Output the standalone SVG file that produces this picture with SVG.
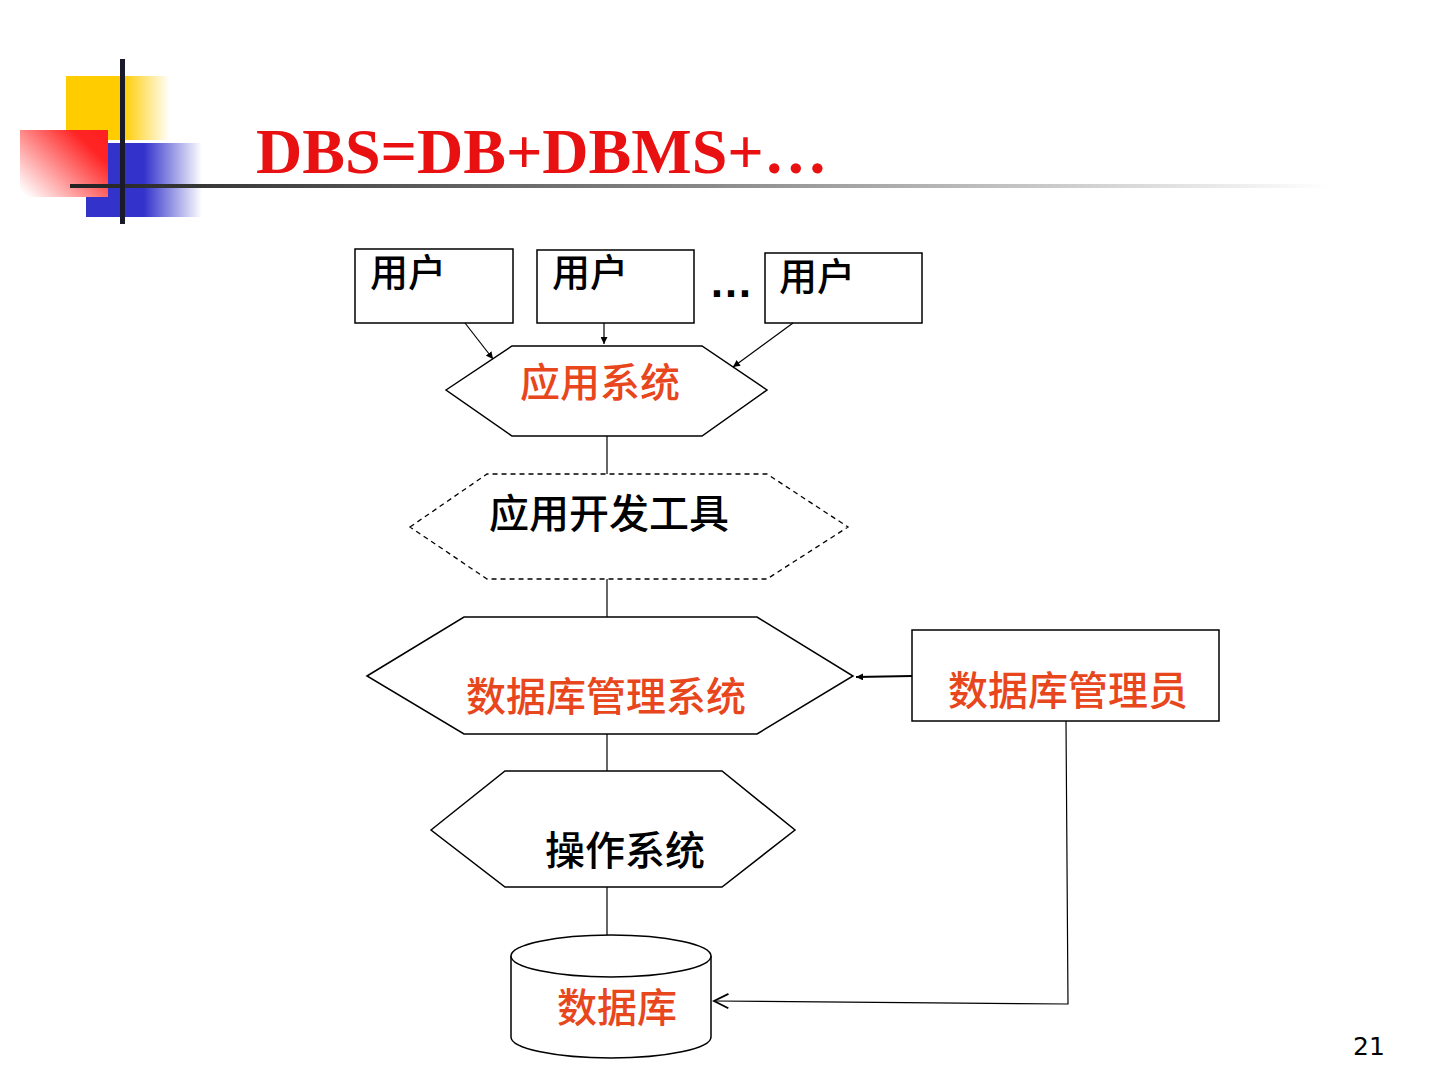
<svg xmlns="http://www.w3.org/2000/svg" width="1440" height="1080" viewBox="0 0 1440 1080">
<defs>
  <linearGradient id="gYellow" x1="0" y1="0" x2="1" y2="0">
    <stop offset="0" stop-color="#ffcc00"/>
    <stop offset="0.55" stop-color="#ffcc00"/>
    <stop offset="1" stop-color="#ffcc00" stop-opacity="0"/>
  </linearGradient>
  <linearGradient id="gBlue" x1="0" y1="0" x2="1" y2="0">
    <stop offset="0" stop-color="#3333cc"/>
    <stop offset="0.5" stop-color="#3333cc"/>
    <stop offset="1" stop-color="#3333cc" stop-opacity="0"/>
  </linearGradient>
  <linearGradient id="gRed" x1="1" y1="0.1" x2="0" y2="0.9">
    <stop offset="0" stop-color="#ff2020"/>
    <stop offset="0.2" stop-color="#ff2525"/>
    <stop offset="1" stop-color="#ffffff"/>
  </linearGradient>
  <linearGradient id="gLine" x1="0" y1="0" x2="1" y2="0">
    <stop offset="0" stop-color="#222"/>
    <stop offset="0.5" stop-color="#888"/>
    <stop offset="1" stop-color="#fff"/>
  </linearGradient>
  <marker id="arrSmall" viewBox="0 0 10 10" refX="10" refY="5" markerWidth="7" markerHeight="7" markerUnits="userSpaceOnUse" orient="auto">
    <path d="M0,0 L10,5 L0,10 z" fill="#000"/>
  </marker>
  <marker id="arrOpen" viewBox="0 0 20 20" refX="18" refY="10" markerWidth="18" markerHeight="18" markerUnits="userSpaceOnUse" orient="auto">
    <path d="M2,2 L18,10 L2,18" fill="none" stroke="#000" stroke-width="2"/>
  </marker>
</defs>
<style>
  .box{fill:#fff;stroke:#000;stroke-width:1.5}
  .dash{fill:#fff;stroke:#000;stroke-width:1.3;stroke-dasharray:5,4}
  .conn{fill:none;stroke:#000;stroke-width:1.2}
  .cn{font-family:"Noto Sans CJK SC","Noto Sans CJK JP",sans-serif;font-size:38px;font-weight:500}
  .big{font-size:40px}
  .blk{fill:#000}
  .org{fill:#e8461c}
</style>
<rect width="1440" height="1080" fill="#fff"/>

<g id="decoration">
  <rect x="66" y="76" width="104" height="64" fill="url(#gYellow)"/>
  <rect x="86" y="143" width="116" height="74" fill="url(#gBlue)"/>
  <rect x="20" y="130" width="88" height="67" fill="url(#gRed)"/>
  <rect x="70" y="184" width="1260" height="4" fill="url(#gLine)"/>
  <rect x="120" y="59" width="5" height="165" fill="#1a1a2a"/>
</g>

<g id="title">
  <text x="256" y="173" font-family="'Liberation Serif','Times New Roman',serif" font-weight="bold" font-size="64" fill="#e81010">DBS=DB+DBMS+…</text>
</g>

<g id="user1">
  <rect class="box" x="355" y="249" width="158" height="74"/>
  <text class="cn blk" x="370" y="286">用户</text>
</g>
<g id="user2">
  <rect class="box" x="537" y="250" width="157" height="73"/>
  <text class="cn blk" x="552" y="286">用户</text>
</g>
<g id="ellipsis">
  <text x="709" y="297" font-family="'Liberation Sans',Arial,sans-serif" font-weight="bold" font-size="44" fill="#000">…</text>
</g>
<g id="user3">
  <rect class="box" x="765" y="253" width="157" height="70"/>
  <text class="cn blk" x="779" y="290">用户</text>
</g>

<g id="app-system">
  <polygon class="box" points="446,390 512,346 702,346 767,390 702,436 512,436"/>
  <text class="cn big org" x="600" y="397" text-anchor="middle">应用系统</text>
</g>

<g id="dev-tools">
  <polygon class="dash" points="410,527 487,474 767,474 848,527 767,579 487,579"/>
  <text class="cn big blk" x="609" y="528" text-anchor="middle">应用开发工具</text>
</g>

<g id="dbms">
  <polygon class="box" points="367,676 464,617 757,617 853,676 757,734 464,734"/>
  <text class="cn big org" x="606" y="711" text-anchor="middle">数据库管理系统</text>
</g>

<g id="dba">
  <rect class="box" x="912" y="630" width="307" height="91"/>
  <text class="cn big org" x="1068" y="705" text-anchor="middle">数据库管理员</text>
</g>

<g id="os">
  <polygon class="box" points="431,830 505,771 722,771 795,830 722,887 505,887"/>
  <text class="cn big blk" x="625" y="865" text-anchor="middle">操作系统</text>
</g>

<g id="database">
  <path class="box" d="M511,956 L511,1037 A100,21 0 0 0 711,1037 L711,956"/>
  <ellipse class="box" cx="611" cy="956" rx="100" ry="21"/>
  <text class="cn big org" x="617" y="1022" text-anchor="middle">数据库</text>
</g>

<g id="connectors">
  <line class="conn" x1="465" y1="323" x2="493" y2="359" marker-end="url(#arrSmall)"/>
  <line class="conn" x1="604" y1="323" x2="604" y2="344" marker-end="url(#arrSmall)"/>
  <line class="conn" x1="793" y1="323" x2="733" y2="367" marker-end="url(#arrSmall)"/>
  <line class="conn" x1="607" y1="436" x2="607" y2="474"/>
  <line class="conn" x1="607" y1="579" x2="607" y2="617"/>
  <line class="conn" x1="607" y1="734" x2="607" y2="771"/>
  <line class="conn" x1="607" y1="887" x2="607" y2="935"/>
  <line x1="912" y1="676" x2="856" y2="677" stroke="#000" stroke-width="2" marker-end="url(#arrSmall)"/>
  <polyline class="conn" stroke-width="1.6" points="1066,721 1068,1004 714,1001" marker-end="url(#arrOpen)"/>
</g>

<g id="page-number">
  <text x="1369" y="1055" text-anchor="middle" font-family="'DejaVu Sans',Verdana,sans-serif" font-size="25" fill="#000">21</text>
</g>
</svg>
